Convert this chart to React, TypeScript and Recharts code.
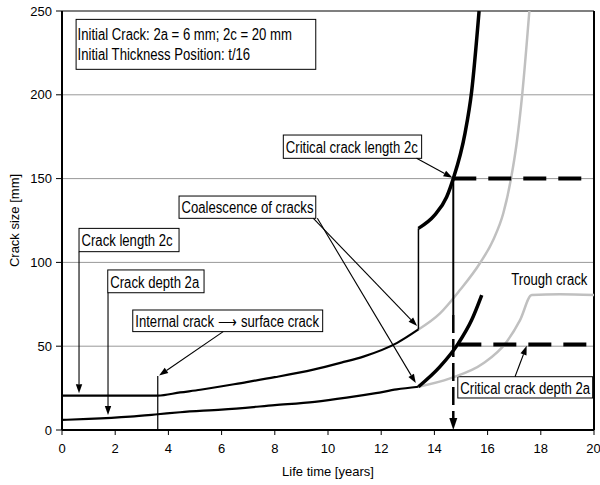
import { LineChart, Line, XAxis, YAxis, CartesianGrid, ReferenceLine, ReferenceArea, ReferenceDot } from 'recharts';

// crack length 2c (black), before coalescence
const length2cEarly = [
  { x: 0, y: 20.5 }, { x: 1.5, y: 20.5 }, { x: 3.6, y: 20.5 }, { x: 4.44, y: 22.4 },
  { x: 5.2, y: 24 }, { x: 6.94, y: 28.6 }, { x: 8, y: 31.5 }, { x: 9.45, y: 36 },
  { x: 10.5, y: 40.2 }, { x: 11.33, y: 43.8 }, { x: 12.6, y: 52 }, { x: 13.4, y: 60 },
];
// crack length 2c after coalescence (thick black)
const length2cLate = [
  { x: 13.4, y: 120.3 }, { x: 14.0, y: 128 }, { x: 14.46, y: 139 }, { x: 14.71, y: 150 },
  { x: 15.15, y: 177 }, { x: 15.4, y: 202 }, { x: 15.68, y: 250 },
];
// crack length 2c without coalescence (grey)
const length2cGrey = [
  { x: 13.4, y: 60 }, { x: 14.21, y: 69.6 }, { x: 14.96, y: 83.5 }, { x: 15.71, y: 99.5 },
  { x: 16.21, y: 113.4 }, { x: 16.59, y: 129.3 }, { x: 16.88, y: 150 }, { x: 17.1, y: 172 },
  { x: 17.3, y: 200 }, { x: 17.57, y: 250 },
];
// crack depth 2a
const depth2aEarly = [
  { x: 0, y: 6 }, { x: 1, y: 6.6 }, { x: 2.56, y: 8 }, { x: 3.6, y: 9.4 }, { x: 4.44, y: 10.6 },
  { x: 6, y: 12.2 }, { x: 8, y: 14.8 }, { x: 9.5, y: 16.8 }, { x: 10.7, y: 19.3 },
  { x: 11.8, y: 22 }, { x: 12.58, y: 24.2 }, { x: 13.4, y: 25.8 },
];
const depth2aLate = [
  { x: 13.4, y: 25.8 }, { x: 14.21, y: 37.8 }, { x: 14.9, y: 51.7 }, { x: 15.4, y: 65.6 }, { x: 15.78, y: 80.5 },
];
const depth2aGrey = [
  { x: 13.4, y: 25.8 }, { x: 14.59, y: 30.8 }, { x: 15.84, y: 39.8 }, { x: 16.72, y: 52.7 },
  { x: 17.22, y: 65.6 }, { x: 17.66, y: 80.5 }, { x: 18.72, y: 81 }, { x: 20, y: 80.5 },
];
// critical sizes
const critical2c = [{ x: 14.71, y: 150 }, { x: 20, y: 150 }];
const critical2a = [{ x: 14.9, y: 51 }, { x: 20, y: 51 }];

const xTicks = [0, 2, 4, 6, 8, 10, 12, 14, 16, 18, 20];
const yTicks = [0, 50, 100, 150, 200, 250];

const noteBoxes = [
  { lines: ['Initial Crack: 2a = 6 mm; 2c = 20 mm', 'Initial Thickness Position: t/16'], x1: 0.53, x2: 9.54, y1: 215.2, y2: 245 },
  { lines: ['Critical crack length 2c'], x1: 8.32, x2: 13.52, y1: 162.1, y2: 176 },
  { lines: ['Coalescence of cracks'], x1: 4.4, x2: 9.54, y1: 126.3, y2: 139.6 },
  { lines: ['Crack length 2c'], x1: 0.64, x2: 4.4, y1: 106.4, y2: 120.3 },
  { lines: ['Crack depth 2a'], x1: 1.72, x2: 5.34, y1: 81.9, y2: 95.5 },
  { lines: ['Internal crack \u27F6 surface crack'], x1: 2.66, x2: 9.8, y1: 58.7, y2: 71.6 },
  { lines: ['Critical crack depth 2a'], x1: 14.88, x2: 19.95, y1: 19.1, y2: 31.8 },
];

const arrows = [
  { from: [13.33, 162.1], to: [14.68, 150.5] },
  { from: [9.45, 126.3], to: [13.35, 62] },
  { from: [9.6, 126.3], to: [13.3, 28] },
  { from: [0.64, 106.4], to: [0.64, 22] },
  { from: [1.73, 81.9], to: [1.73, 9] },
  { from: [6.06, 58.7], to: [3.65, 32.5] },
  { from: [17.03, 31.8], to: [17.47, 50.2] },
];

const FONT = 13;
const NOTE_FONT = 16;
const NARROW = 0.82;

const arrowHead = (x1: number, y1: number, x2: number, y2: number, len = 9, half = 3.2) => {
  const d = Math.hypot(x2 - x1, y2 - y1) || 1;
  const ux = (x2 - x1) / d;
  const uy = (y2 - y1) / d;
  const bx = x2 - ux * len;
  const by = y2 - uy * len;
  return {
    bx, by,
    points: `${x2},${y2} ${bx - uy * half},${by + ux * half} ${bx + uy * half},${by - ux * half}`,
  };
};

const ArrowShape = (props: any) => {
  const { x1, y1, x2, y2 } = props;
  const h = arrowHead(x1, y1, x2, y2);
  return (
    <g>
      <line x1={x1} y1={y1} x2={h.bx} y2={h.by} stroke="#000" strokeWidth={1.1} />
      <polygon points={h.points} fill="#000" />
    </g>
  );
};

const DashedArrowShape = (props: any) => {
  const { x1, y1, x2, y2 } = props;
  const h = arrowHead(x1, y1, x2, y2, 12, 4);
  return (
    <g>
      <line x1={x1} y1={y1} x2={h.bx} y2={h.by} stroke="#000" strokeWidth={2.5} strokeDasharray="18 6" />
      <polygon points={h.points} fill="#000" />
    </g>
  );
};

// narrow text (Arial Narrow look)
const NoteText = ({ x, y, children, anchor = 'start' }: any) => (
  <text
    transform={`translate(${x},${y}) scale(${NARROW},1)`}
    fontSize={NOTE_FONT}
    textAnchor={anchor}
    fill="#000"
  >
    {children}
  </text>
);

const boxShape = (lines: string[]) => (props: any) => {
  const { x, y, width, height } = props;
  return (
    <g>
      <rect x={x} y={y} width={width} height={height} fill="#fff" stroke="#000" strokeWidth={1} />
      {lines.length === 1 ? (
        <NoteText x={x + 2.5} y={y + height / 2 + 6.2}>{lines[0]}</NoteText>
      ) : (
        lines.map((t, i) => (
          <NoteText key={i} x={x + 1.5} y={y + 20.7 + i * 19.5}>{t}</NoteText>
        ))
      )}
    </g>
  );
};

const TroughLabel = (props: any) => (
  <NoteText x={props.cx} y={props.cy} anchor="end">Trough crack</NoteText>
);

export default function App() {
  return (
    <div style={{ position: 'absolute', left: 0, top: 0 }}>
      <LineChart
        width={600}
        height={485}
        margin={{ top: 11, right: 6, bottom: 0, left: 0 }}
        style={{ fontFamily: '"Liberation Sans", Arial, sans-serif', background: '#fff' }}
      >
        <CartesianGrid vertical={false} stroke="#999" />
        <XAxis
          type="number"
          dataKey="x"
          domain={[0, 20]}
          ticks={xTicks}
          allowDataOverflow
          height={55}
          tickSize={5}
          tickMargin={9}
          axisLine={{ stroke: '#000', strokeWidth: 2 }}
          tickLine={{ stroke: '#000' }}
          tick={{ fill: '#000', fontSize: FONT }}
          label={{ value: 'Life time [years]', position: 'insideBottom', offset: 9, fill: '#000', fontSize: FONT }}
        />
        <YAxis
          type="number"
          domain={[0, 250]}
          ticks={yTicks}
          allowDataOverflow
          width={62}
          tickSize={6}
          tickMargin={4}
          axisLine={{ stroke: '#000', strokeWidth: 2 }}
          tickLine={{ stroke: '#000' }}
          tick={{ fill: '#000', fontSize: FONT }}
          label={{ value: 'Crack size [mm]', angle: -90, position: 'insideLeft', offset: 14, fill: '#000', fontSize: FONT, style: { textAnchor: 'middle' } }}
        />
        <ReferenceLine y={250} stroke="#666" strokeWidth={1.5} />
        <ReferenceLine x={20} stroke="#000" strokeWidth={2} />

        <Line data={length2cGrey} dataKey="y" type="monotone" stroke="#c0c0c0" strokeWidth={2.5} dot={false} isAnimationActive={false} />
        <Line data={depth2aGrey} dataKey="y" type="monotone" stroke="#c0c0c0" strokeWidth={2.5} dot={false} isAnimationActive={false} />
        <Line data={length2cEarly} dataKey="y" type="monotone" stroke="#000" strokeWidth={2.2} dot={false} isAnimationActive={false} />
        <Line data={depth2aEarly} dataKey="y" type="monotone" stroke="#000" strokeWidth={2.2} dot={false} isAnimationActive={false} />
        <Line data={length2cLate} dataKey="y" type="monotone" stroke="#000" strokeWidth={3.5} dot={false} isAnimationActive={false} />
        <Line data={depth2aLate} dataKey="y" type="monotone" stroke="#000" strokeWidth={3.5} dot={false} isAnimationActive={false} />
        <Line data={critical2c} dataKey="y" type="linear" stroke="#000" strokeWidth={4} strokeDasharray="23 12" dot={false} isAnimationActive={false} />
        <Line data={critical2a} dataKey="y" type="linear" stroke="#000" strokeWidth={4} strokeDasharray="23 12" dot={false} isAnimationActive={false} />

        <ReferenceLine segment={[{ x: 3.6, y: 0 }, { x: 3.6, y: 32.2 }]} stroke="#000" strokeWidth={1.2} />
        <ReferenceLine segment={[{ x: 13.4, y: 60 }, { x: 13.4, y: 120.3 }]} stroke="#000" strokeWidth={1.5} />
        <ReferenceLine segment={[{ x: 14.71, y: 150 }, { x: 14.71, y: 68.6 }]} stroke="#000" strokeWidth={2} />
        <ReferenceLine segment={[{ x: 14.71, y: 68.6 }, { x: 14.71, y: 0 }]} shape={DashedArrowShape} />

        {noteBoxes.map((b, i) => (
          <ReferenceArea key={`box${i}`} x1={b.x1} x2={b.x2} y1={b.y1} y2={b.y2} shape={boxShape(b.lines)} />
        ))}
        {arrows.map((a, i) => (
          <ReferenceLine
            key={`arr${i}`}
            segment={[{ x: a.from[0], y: a.from[1] }, { x: a.to[0], y: a.to[1] }]}
            shape={ArrowShape}
          />
        ))}
        <ReferenceDot x={19.75} y={86.5} r={0} shape={TroughLabel} />
      </LineChart>
    </div>
  );
}
